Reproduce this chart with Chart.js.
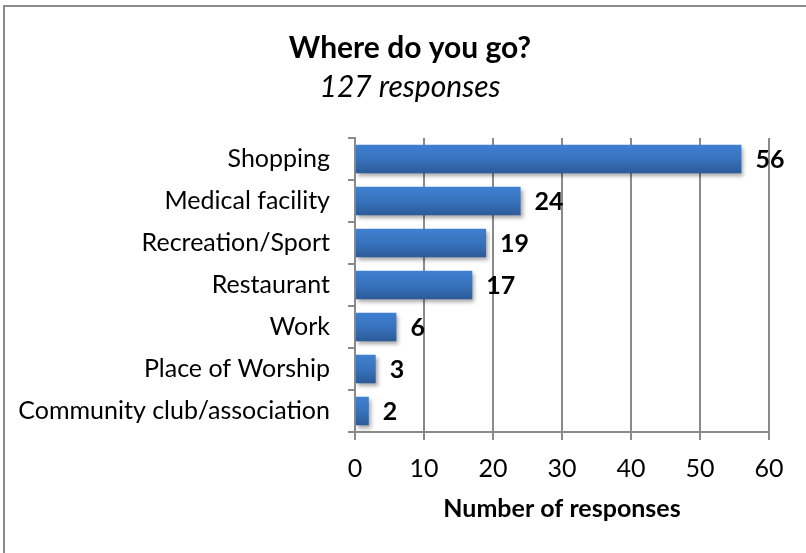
<!DOCTYPE html>
<html>
<head>
<meta charset="utf-8">
<script src="https://cdn.jsdelivr.net/npm/chart.js@4"></script>
<style>
  body { margin: 0; background: #fff; }
  #frame { position: absolute; left: 3px; top: 5px; width: 830px; height: 600px;
           border-left: 2px solid #8a8a8a; border-top: 2px solid #8a8a8a; }
  #wrap { position: absolute; left: 0; top: 0; width: 806px; height: 553px; }
</style>
</head>
<body>
<div id="frame"></div>
<div id="wrap"><canvas id="myChart" width="806" height="553"></canvas></div>
<script>
const places = ["Shopping", "Medical facility", "Recreation/Sport", "Restaurant", "Work", "Place of Worship", "Community club/association"];
const counts = [56, 24, 19, 17, 6, 3, 2];
const xTicks = [0, 10, 20, 30, 40, 50, 60];

const FONT = "Lato, 'Open Sans', sans-serif";
const GREY = "#8a8a8a";
const BAR_PCT = 0.68;
const PAD_L = 51;

// vertical gradient per bar, built from the y scale
function barFill(c) {
	const chart = c.chart;
	const ys = chart.scales.y;
	if (!ys || c.dataIndex === undefined) return "#3873bd";
	const mid = ys.getPixelForValue(c.dataIndex);
	const half = ys.height / places.length * BAR_PCT / 2;
	if (!isFinite(mid) || !isFinite(half) || half <= 0) return "#3873bd";
	const g = chart.ctx.createLinearGradient(0, mid - half, 0, mid + half);
	g.addColorStop(0, "#3e80d2");
	g.addColorStop(0.5, "#3873bd");
	g.addColorStop(1, "#2b5a98");
	return g;
}

// shadow under the bars, values drawn after
const barLook = {
	id: 'barLook',
	afterLayout(chart) {
		// let the long category label run into the left padding
		chart.scales.y.left = 0;
	},
	beforeDatasetDraw(chart) {
		const ctx = chart.ctx;
		ctx.save();
		ctx.shadowColor = "rgba(0,0,0,0.35)";
		ctx.shadowBlur = 4;
		ctx.shadowOffsetX = 2;
		ctx.shadowOffsetY = 3;
	},
	afterDatasetDraw(chart, args) {
		const ctx = chart.ctx;
		ctx.restore();
		ctx.save();
		ctx.font = "bold 25px " + FONT;
		ctx.fillStyle = "#000";
		ctx.textAlign = "left";
		ctx.textBaseline = "middle";
		args.meta.data.forEach(function(el, i) {
			ctx.fillText(counts[i], el.x + 14, el.y + 1);
		});
		ctx.restore();
	}
};

const chart = new Chart(document.getElementById('myChart'), {
	type: 'bar',
	data: {
		labels: places,
		datasets: [{
			data: counts,
			backgroundColor: barFill,
			borderWidth: 0,
			barPercentage: BAR_PCT,
			categoryPercentage: 1.0
		}]
	},
	options: {
		indexAxis: 'y',
		responsive: false,
		animation: false,
		layout: { padding: { left: PAD_L, right: 37, top: 0, bottom: 0 } },
		plugins: {
			legend: { display: false },
			tooltip: { enabled: false },
			title: {
				display: true,
				text: "Where do you go?",
				color: "#000",
				font: { family: FONT, size: 30, weight: 'bold', lineHeight: 1.2 },
				padding: { top: 30, bottom: 3 }
			},
			subtitle: {
				display: true,
				text: "127 responses",
				color: "#000",
				font: { family: FONT, size: 30, style: 'italic', lineHeight: 1.2 },
				padding: { top: 0, bottom: 33 }
			}
		},
		scales: {
			x: {
				min: 0, max: 60,
				afterBuildTicks: function(s) { s.ticks = xTicks.map(v => ({ value: v })); },
				afterFit: function(s) { s.height = 121; },
				border: { color: GREY, width: 2 },
				grid: { color: GREY, lineWidth: 2, tickLength: 8, drawTicks: true },
				ticks: { color: "#000", font: { family: FONT, size: 25 }, padding: 14 },
				title: {
					display: true,
					text: "Number of responses",
					color: "#000",
					font: { family: FONT, size: 25, weight: 'bold', lineHeight: 1.2 },
					padding: { top: 0, bottom: 29 }
				}
			},
			y: {
				afterFit: function(s) { s.width = 355 - PAD_L; },
				border: { color: GREY, width: 2 },
				grid: { offset: true, drawOnChartArea: false, color: GREY, lineWidth: 2, tickLength: 7 },
				ticks: { color: "#000", font: { family: FONT, size: 25 }, padding: 18 }
			}
		}
	},
	plugins: [barLook]
});
</script>
</body>
</html>
